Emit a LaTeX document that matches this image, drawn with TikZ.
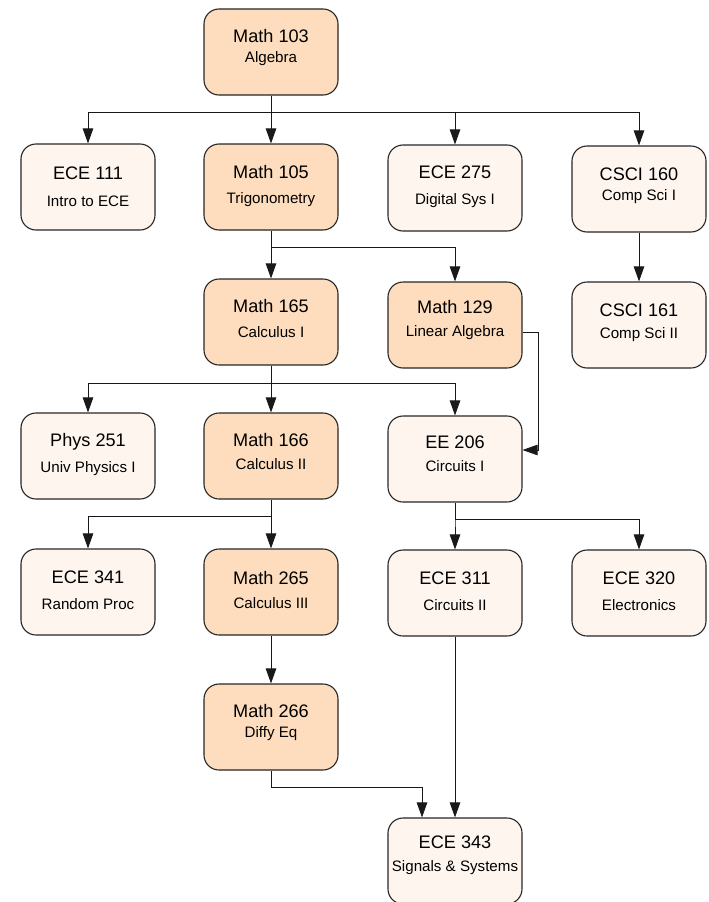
\documentclass[tikz,border=0pt]{standalone}
\usepackage{fontspec}
\setmainfont{Liberation Sans}
\usetikzlibrary{arrows.meta}
\definecolor{peach}{RGB}{253,221,189}
\definecolor{cream}{RGB}{254,245,239}
\tikzset{
  box/.style={draw=black!85, line width=1.1bp, rounded corners=15bp, minimum width=134bp, minimum height=86bp, inner sep=0pt},
  dark/.style={box, fill=peach},
  light/.style={box, fill=cream},
  ttl/.style={anchor=base, inner sep=0pt, font=\fontsize{18.2}{20}\selectfont},
  sub/.style={anchor=base, inner sep=0pt, font=\fontsize{15.2}{17}\selectfont},
  arr/.style={-{Triangle[length=15bp,width=10.5bp]}, line width=0.9bp, draw=black!90}
}
% #1 style, #2 name, #3 x centre, #4 y top, #5 title, #6 subtitle, #7 title offset, #8 sub offset
\newcommand\course[8]{%
  \node[#1] (#2) at (#3,#4+43) {};
  \node[ttl] (#2t) at (#3,#4+#7+6.5) {#5};
  \node[sub] (#2s) at (#3,#4+#8+5.5) {#6};
}
\begin{document}
\begin{tikzpicture}[x=1bp,y=-1bp]
\useasboundingbox (0,0) rectangle (709,902);
\course{dark}{m103}{271}{9}{Math 103}{Algebra}{27}{48}
\course{light}{e111}{88}{144}{ECE 111}{Intro to ECE}{28.5}{56.5}
\course{dark}{m105}{271}{144}{Math 105}{Trigonometry}{28}{54}
\course{light}{e275}{455}{145}{ECE 275}{Digital Sys I}{27}{54}
\course{light}{c160}{639}{146}{CSCI 160}{Comp Sci I}{28}{49}
\course{dark}{m165}{271}{279}{Math 165}{Calculus I}{27}{53}
\course{dark}{m129}{455}{282}{Math 129}{Linear Algebra}{25}{49}
\course{light}{c161}{639}{282}{CSCI 161}{Comp Sci II}{28}{51}
\course{light}{p251}{88}{413}{Phys 251}{Univ Physics I}{27}{54}
\course{dark}{m166}{271}{413}{Math 166}{Calculus II}{27}{51}
\course{light}{e206}{455}{416}{EE 206}{Circuits I}{25.5}{50}
\course{light}{e341}{88}{549}{ECE 341}{Random Proc}{28}{55}
\course{dark}{m265}{271}{549}{Math 265}{Calculus III}{28.5}{54}
\course{light}{e311}{455}{550}{ECE 311}{Circuits II}{28}{55}
\course{light}{e320}{639}{550}{ECE 320}{Electronics}{27.5}{55}
\course{dark}{m266}{271}{684}{Math 266}{Diffy Eq}{27}{48}
\course{light}{e343}{455}{818}{ECE 343}{Signals \& Systems}{23.5}{48}

\draw[arr] (m103.south) -- ++(0,17) -| (e111.north);
\draw[arr] (m103.south) -- (m105.north);
\draw[arr] (m103.south) -- ++(0,17) -| (e275.north);
\draw[arr] (m103.south) -- ++(0,17) -| (c160.north);

\draw[arr] (m105.south) -- (m165.north);
\draw[arr] (m105.south) -- ++(0,17) -| (m129.north);

\draw[arr] (c160.south) -- (c161.north);

\draw[arr] (m165.south) -- ++(0,18) -| (p251.north);
\draw[arr] (m165.south) -- (m166.north);
\draw[arr] (m165.south) -- ++(0,18) -| (e206.north);

\draw[arr] ([yshift=-7bp]m129.east) -- ++(16,0) |- ([yshift=9bp]e206.east);

\draw[arr] (m166.south) -- ++(0,17) -| (e341.north);
\draw[arr] (m166.south) -- (m265.north);

\draw[arr] (e206.south) -- ++(0,17) -| (e311.north);
\draw[arr] (e206.south) -- ++(0,17) -| (e320.north);

\draw[arr] (m265.south) -- (m266.north);

\draw[arr] (m266.south) -- ++(0,17) -| ([xshift=-33bp]e343.north);
\draw[arr] (e311.south) -- (e343.north);
\end{tikzpicture}
\end{document}
